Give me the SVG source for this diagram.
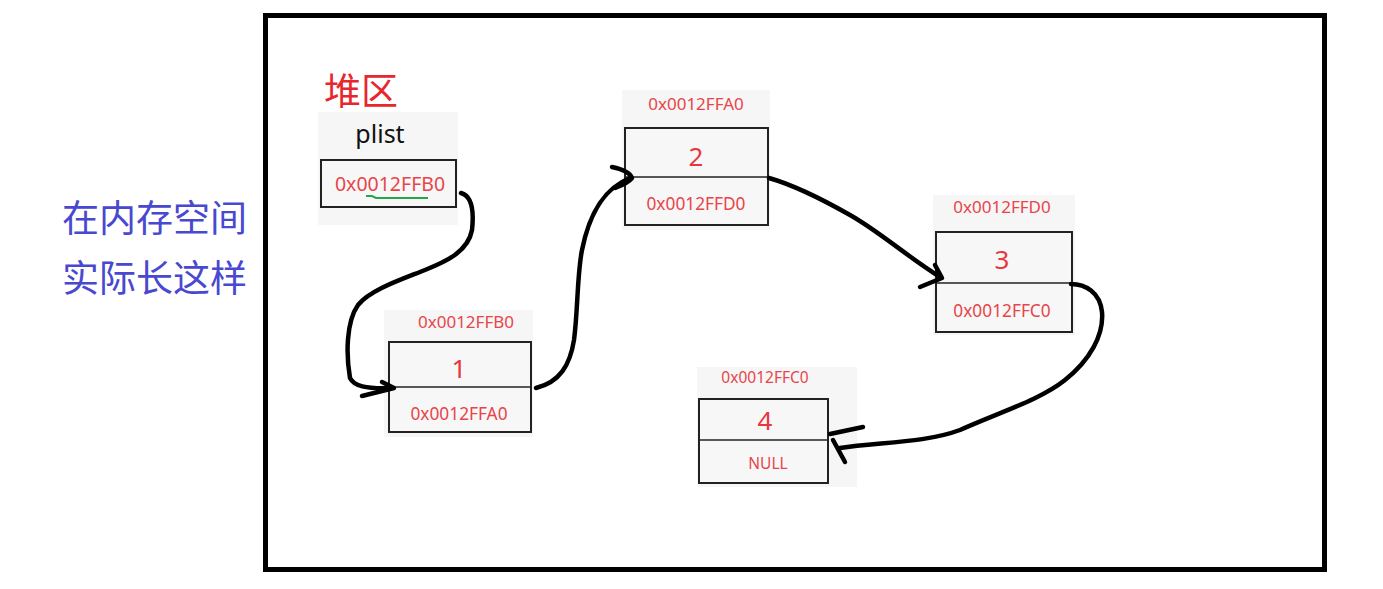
<svg xmlns="http://www.w3.org/2000/svg" width="1383" height="589" viewBox="0 0 1383 589">
<style>
.panel{fill:#f6f6f6;stroke:none}
.box{fill:#f7f7f7;stroke:#222;stroke-width:2}
.div{stroke:#222;stroke-width:1.5}
.addr{font-family:"Noto Sans","DejaVu Sans",sans-serif;font-size:17px;fill:#e8454a;text-anchor:middle}
.val{font-family:"Noto Sans","DejaVu Sans",sans-serif;font-size:26px;fill:#e8383d;text-anchor:middle}
.ptr{font-family:"Noto Sans","DejaVu Sans",sans-serif;font-size:17.3px;fill:#e8454a;text-anchor:middle}
.wire{fill:none;stroke:#000;stroke-width:4.5;stroke-linecap:round;stroke-linejoin:round}
.cjk{font-family:"Noto Sans CJK SC","Noto Sans",sans-serif}
</style>
<rect x="0" y="0" width="1383" height="589" fill="#fff"/>
<rect x="265.5" y="15.5" width="1059" height="554" fill="none" stroke="#000" stroke-width="5"/>
<g id="caption">
<text class="cjk" x="62" y="232" font-size="37" fill="#4848d0">在内存空间</text>
<text class="cjk" x="62" y="292" font-size="37" fill="#4848d0">实际长这样</text>
</g>
<g id="heap-label">
<text class="cjk" x="324" y="105" font-size="37" fill="#e8262e">堆区</text>
</g>
<g id="plist">
<rect class="panel" x="318" y="112" width="140" height="113"/>
<text x="380" y="143" font-family="Noto Sans, DejaVu Sans, sans-serif" font-size="25" fill="#111" text-anchor="middle">plist</text>
<rect class="box" x="321" y="160" width="135" height="47"/>
<text class="ptr" x="390" y="191" style="font-size:19.5px">0x0012FFB0</text>
<path d="M366,196 L372,196 L376,198 L428,198" fill="none" stroke="#22a845" stroke-width="2"/>
</g>
<g id="node1">
<rect class="panel" x="384" y="310" width="149" height="127"/>
<text class="addr" x="466" y="328">0x0012FFB0</text>
<rect class="box" x="389" y="342" width="142" height="90"/>
<line class="div" x1="389" y1="387" x2="531" y2="387"/>
<text class="val" x="459" y="378">1</text>
<text class="ptr" x="459" y="420">0x0012FFA0</text>
</g>
<g id="node2">
<rect class="panel" x="622" y="90" width="148" height="140"/>
<text class="addr" x="696" y="110">0x0012FFA0</text>
<rect class="box" x="625" y="128" width="143" height="97"/>
<line class="div" x1="625" y1="177" x2="768" y2="177"/>
<text class="val" x="696" y="166">2</text>
<text class="ptr" x="696" y="210">0x0012FFD0</text>
</g>
<g id="node3">
<rect class="panel" x="933" y="195" width="142" height="140"/>
<text class="addr" x="1002" y="213">0x0012FFD0</text>
<rect class="box" x="936" y="232" width="136" height="100"/>
<line class="div" x1="936" y1="283" x2="1072" y2="283"/>
<text class="val" x="1002" y="269">3</text>
<text class="ptr" x="1002" y="317">0x0012FFC0</text>
</g>
<g id="node4">
<rect class="panel" x="697" y="367" width="160" height="120"/>
<text class="addr" x="765" y="383" style="font-size:15.5px">0x0012FFC0</text>
<rect class="box" x="699" y="399" width="129" height="84"/>
<line class="div" x1="699" y1="440" x2="828" y2="440"/>
<text class="val" x="765" y="430">4</text>
<text class="addr" x="768" y="469" style="font-size:15.5px">NULL</text>
</g>
<g id="connectors">
<path class="wire" d="M461,193 C472,196 474,212 472,230 C468,252 445,262 425,270 C400,280 370,290 358,305 C346,322 346,355 350,378 C354,386 365,389 392,388"/>
<path class="wire" d="M382,382 L394,388 L362,396"/>
<path class="wire" d="M536,388 C560,382 570,365 574,340 C578,310 577,275 582,250 C588,220 600,190 630,178"/>
<path class="wire" d="M612,167 C622,169 630,173 632,178 C628,183 620,186 615,188"/>
<path class="wire" d="M769,178 C790,184 820,198 850,215 C880,232 905,255 940,277"/>
<path class="wire" d="M935,265 L942,278 L920,287"/>
<path class="wire" d="M1071,284 C1085,284 1100,292 1102,312 C1104,335 1090,360 1065,380 C1040,400 1000,412 960,430 C925,443 880,442 840,448"/>
<path class="wire" d="M863,427 L830,434"/>
<path class="wire" d="M833,440 L845,462"/>
</g>
</svg>
